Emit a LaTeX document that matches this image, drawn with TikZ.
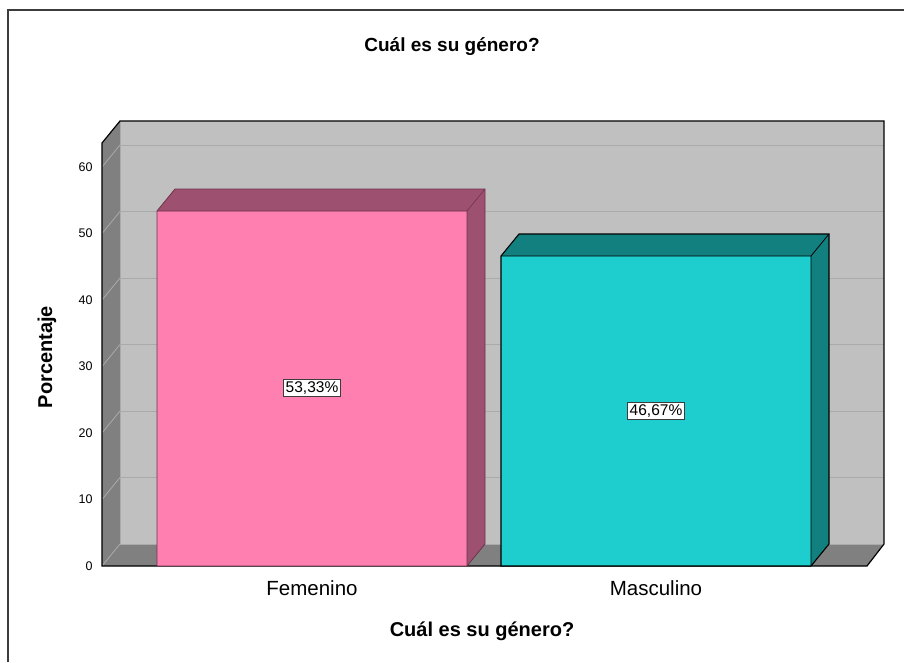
\documentclass[tikz,border=0pt]{standalone}
\usepackage{fontspec}
\setmainfont{Liberation Sans}
\definecolor{wallback}{RGB}{192,192,192}
\definecolor{wallside}{RGB}{128,128,128}
\definecolor{gridc}{RGB}{170,170,170}
\definecolor{pinkf}{RGB}{255,128,176}
\definecolor{pinkd}{RGB}{158,80,112}
\definecolor{pinke}{RGB}{110,50,75}
\definecolor{cyanf}{RGB}{30,206,206}
\definecolor{teald}{RGB}{19,128,128}
\definecolor{framec}{RGB}{60,60,60}
\tikzset{
  titletext/.style={font=\fontsize{19}{22}\selectfont\bfseries},
  cattext/.style={font=\fontsize{20.5}{24}\selectfont},
  ticktext/.style={font=\fontsize{12.5}{14}\selectfont, anchor=east},
  valbox/.style={draw=framec, fill=white, line width=0.8pt, inner sep=2pt, font=\fontsize{15.5}{17}\selectfont},
  gridline/.style={draw=gridc, line width=0.8pt},
  outline/.style={draw=black, line width=1.2pt, line join=miter}
}
\begin{document}
\begin{tikzpicture}[x=1pt,y=-1pt]
\useasboundingbox (0,0) rectangle (904,662);
% outer frame
\draw[framec, line width=1.5pt] (8,662) -- (8,10) -- (904,10);
% back wall
\fill[wallback] (120,121) rectangle (884,544);
% left wall
\fill[wallside] (102,566) -- (102,143) -- (120,121) -- (120,544) -- cycle;
% floor
\fill[wallside] (102,566) -- (867,566) -- (884,544) -- (120,544) -- cycle;
% gridlines
\foreach \v in {10,20,30,40,50,60} {
  \pgfmathsetmacro{\fy}{566-\v*6.65}
  \pgfmathsetmacro{\by}{\fy-22}
  \draw[gridline] (120,\by) -- (884,\by);
  \draw[gridline] (102,\fy) -- (120,\by);
}
\draw[gridline] (120,544) -- (884,544);
\draw[gridline] (102,566) -- (120,544);
\draw[gridline] (120,121) -- (120,544);
% outlines of the frame box
\draw[outline] (102,566) -- (102,143) -- (120,121) -- (884,121) -- (884,544) -- (867,566) -- cycle;
% tick labels
\foreach \v in {0,10,20,30,40,50,60} {
  \pgfmathsetmacro{\fy}{566-\v*6.65}
  \node[ticktext] (t\v) at (96,\fy) {\v};
}
% Femenino bar
\fill[pinkf] (157,566) rectangle (467,211);
\fill[pinkd] (157,211) -- (467,211) -- (485,189) -- (175,189) -- cycle;
\fill[pinkd] (467,566) -- (467,211) -- (485,189) -- (485,544) -- cycle;
\draw[pinke, line width=0.8pt, line join=miter] (157,566) -- (157,211) -- (175,189) -- (485,189) -- (485,544) -- (467,566) -- cycle;
\draw[pinke, line width=0.6pt] (157,211) -- (467,211) -- (485,189) (467,211) -- (467,566);
% Masculino bar
\fill[cyanf] (501,566) rectangle (811,256);
\fill[teald] (501,256) -- (811,256) -- (829,234) -- (519,234) -- cycle;
\fill[teald] (811,566) -- (811,256) -- (829,234) -- (829,544) -- cycle;
\draw[black, line width=1.1pt, line join=miter] (501,566) -- (501,256) -- (519,234) -- (829,234) -- (829,544) -- (811,566) -- cycle;
\draw[black, line width=0.8pt] (501,256) -- (811,256) -- (829,234) (811,256) -- (811,566);
% value labels
\node[valbox] (vf) at (312,388) {53,33\%};
\node[valbox] (vm) at (656,411) {46,67\%};
% category labels
\node[cattext] (cf) at (312,588) {Femenino};
\node[cattext] (cm) at (656,588) {Masculino};
% titles
\node[titletext] (title) at (452,47) {Cuál es su género?};
\node[titletext, font=\fontsize{20}{23}\selectfont\bfseries] (xtitle) at (482,631) {Cuál es su género?};
\node[titletext, font=\fontsize{20}{23}\selectfont\bfseries, rotate=90] (ytitle) at (47,357) {Porcentaje};
\end{tikzpicture}
\end{document}
